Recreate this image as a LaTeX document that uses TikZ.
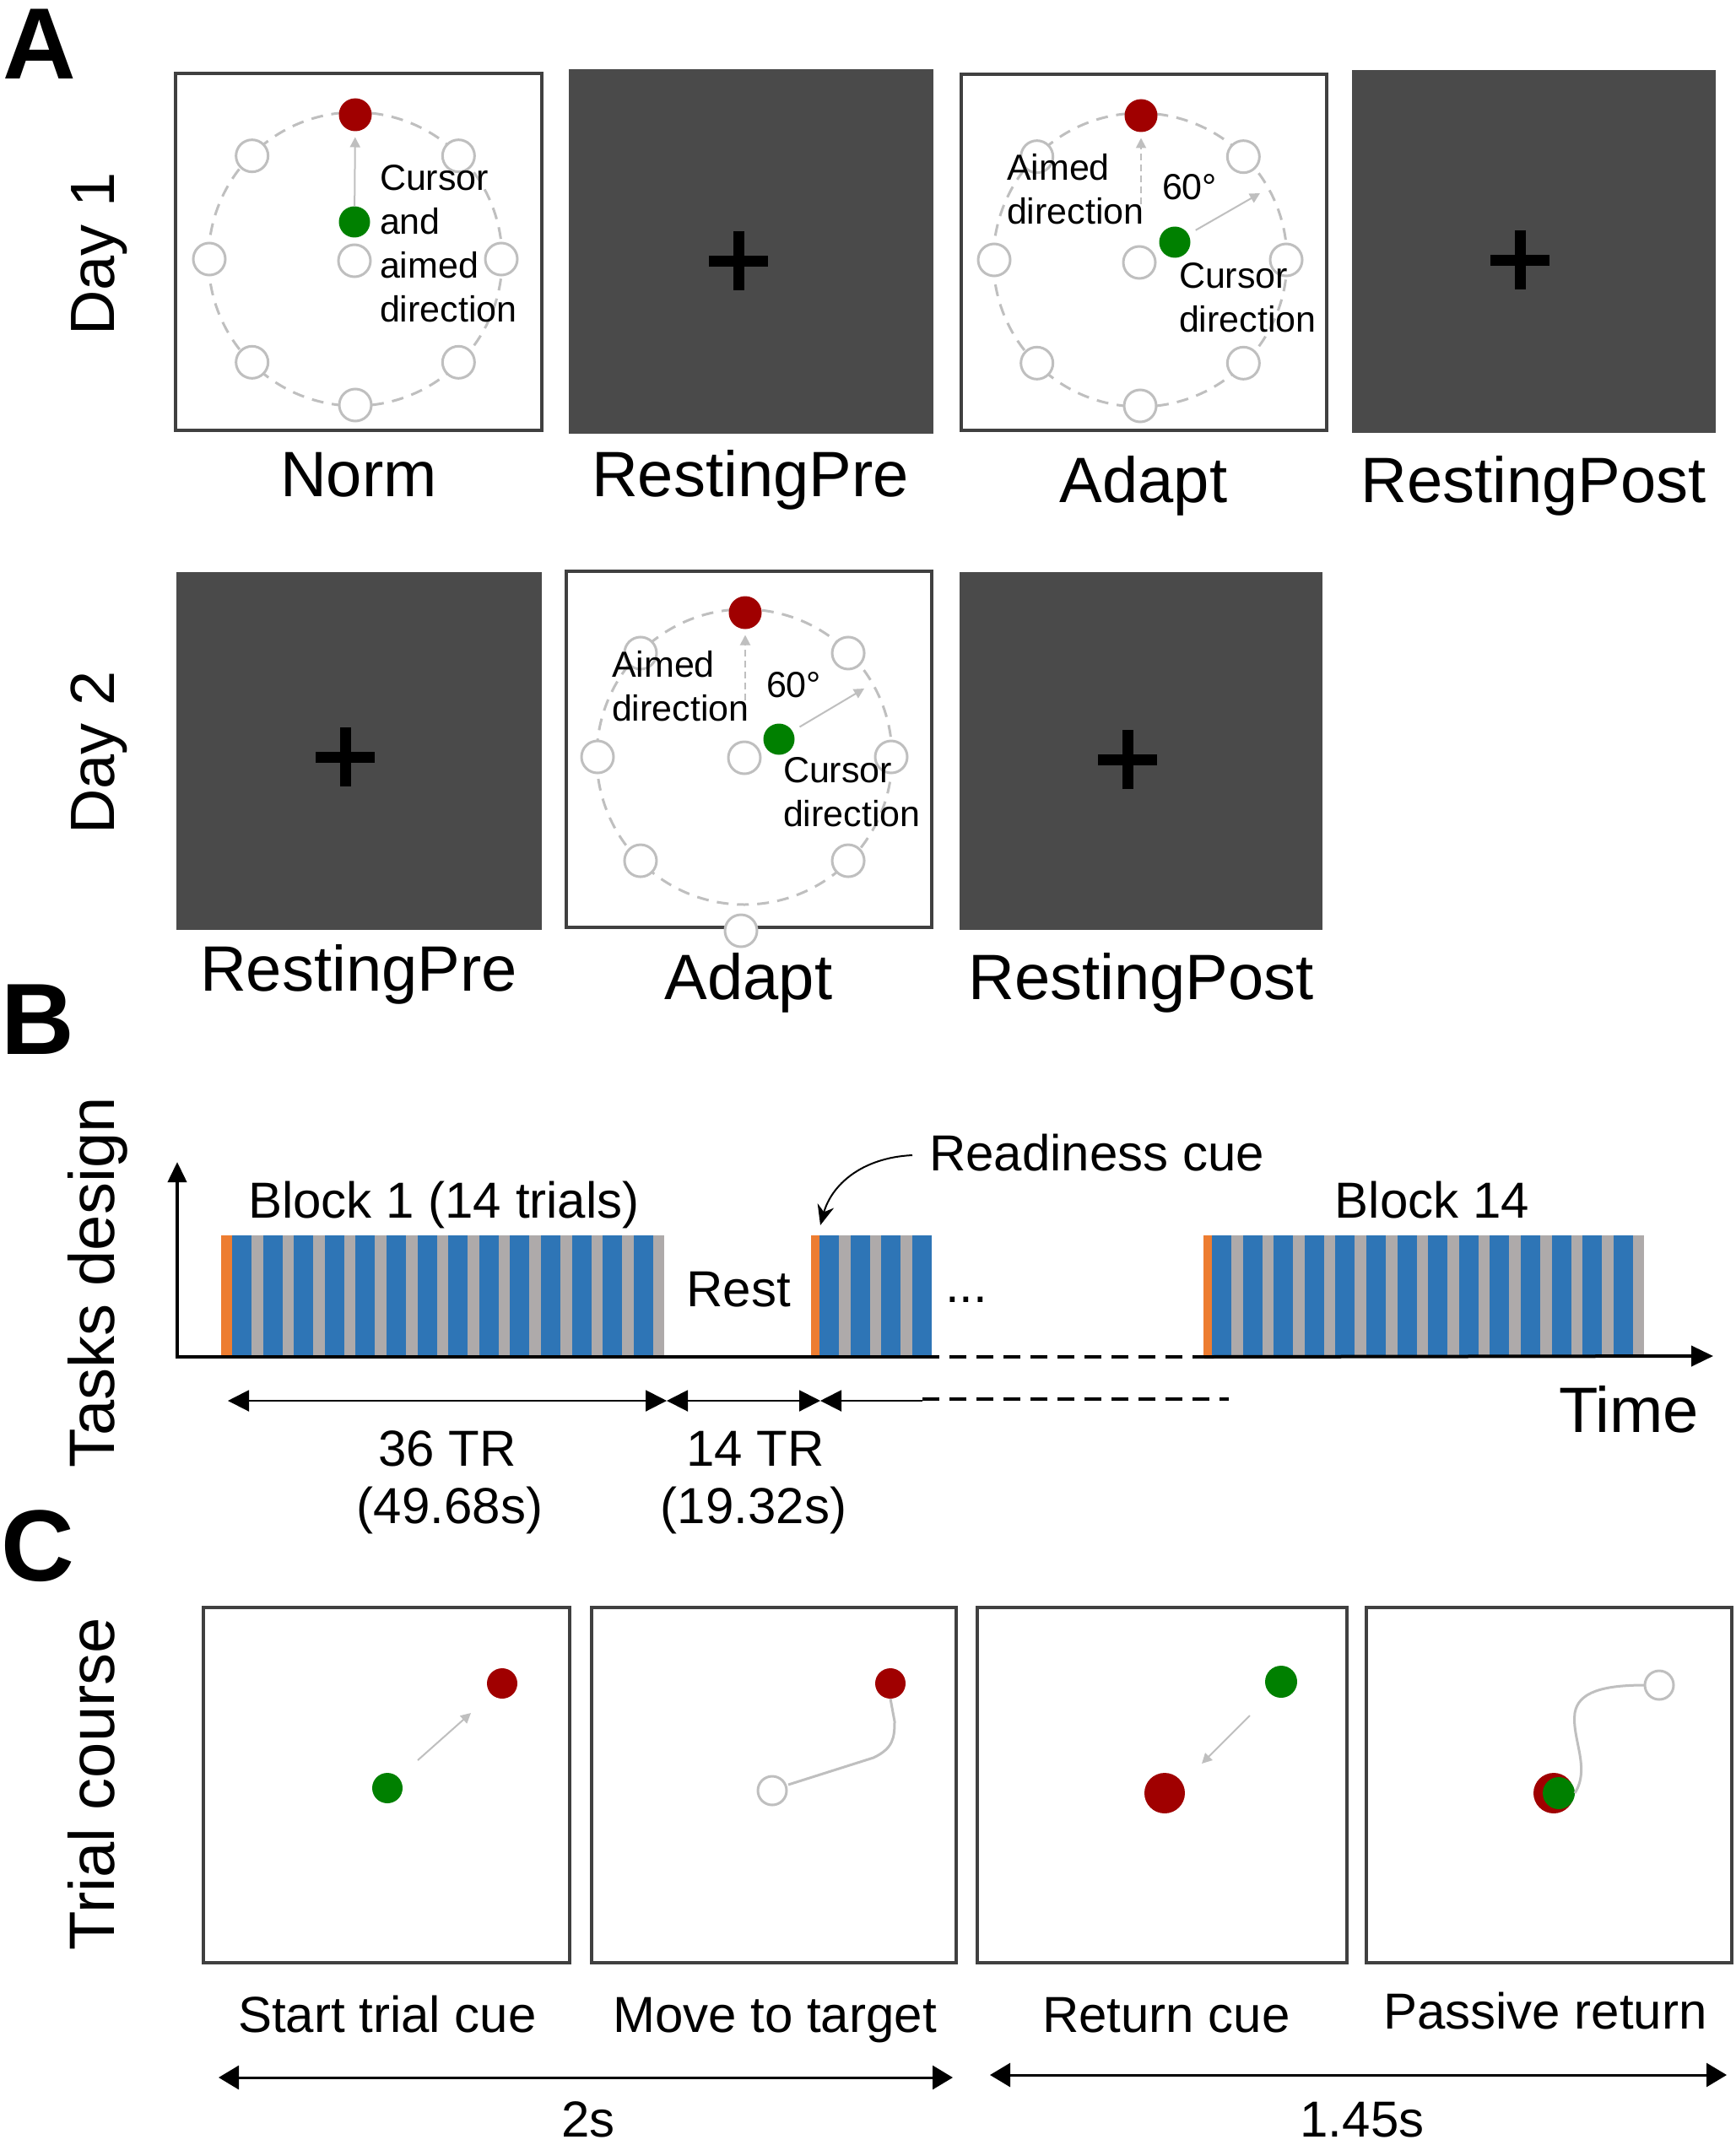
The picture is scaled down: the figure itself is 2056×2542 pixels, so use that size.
\documentclass[tikz,border=0pt]{standalone}
\usepackage{fontspec}
\setmainfont{Liberation Sans}
\usetikzlibrary{arrows.meta,fit,calc}

\definecolor{dkbox}{HTML}{404040}
\definecolor{restgray}{HTML}{4A4A4A}
\definecolor{ltgray}{HTML}{BFBFBF}
\definecolor{tred}{HTML}{A00000}
\definecolor{tgreen}{HTML}{008000}
\definecolor{sblue}{HTML}{2E75B6}
\definecolor{sgray}{HTML}{AEAAAA}
\definecolor{sorange}{HTML}{ED7D31}

\begin{document}
\begin{tikzpicture}[x=0.5pt,y=-0.5pt,
  every node/.style={inner sep=0pt, outer sep=0pt},
  wbox/.style={draw=dkbox, line width=2pt, fill=white},
  rbox/.style={fill=restgray, draw=restgray, line width=0.5pt},
  target/.style={circle, draw=ltgray, line width=1.5pt, fill=white, minimum size=19pt},
  reddot/.style={circle, fill=tred, minimum size=19.5pt},
  greendot/.style={circle, fill=tgreen, minimum size=18.5pt},
  bigred/.style={circle, fill=tred, minimum size=24pt},
  ring/.style={draw=ltgray, line width=1.5pt, dash pattern=on 7pt off 5pt},
  garrow/.style={draw=ltgray, line width=1pt, -{Triangle[length=6pt,width=6pt]}},
  gdash/.style={draw=ltgray, line width=1pt, dash pattern=on 4pt off 2.5pt, -{Triangle[length=6pt,width=6pt]}},
  gpath/.style={draw=ltgray, line width=1.5pt},
  plusline/.style={line width=6.5pt, black},
  bigtxt/.style={font=\fontsize{38}{44}\selectfont},
  sidetxt/.style={font=\fontsize{37}{44}\selectfont, rotate=90, anchor=base},
  midtxt/.style={font=\fontsize{30}{36}\selectfont},
  smtxt/.style={font=\fontsize{21.5}{26}\selectfont, align=left},
  paneltag/.style={font=\fontsize{60}{70}\selectfont\bfseries},
  dimarrow/.style={line width=1pt, {Triangle[length=12.5pt,width=12.5pt]}-{Triangle[length=12.5pt,width=12.5pt]}},
  dimarrowc/.style={line width=1.5pt, {Triangle[length=12pt,width=14pt]}-{Triangle[length=12pt,width=14pt]}},
  axisline/.style={line width=2pt, black},
  dashaxis/.style={line width=2pt, black, dash pattern=on 10pt off 6pt}
]
\useasboundingbox (0,0) rectangle (2056,2542);

% ---------------- Panel tags and side labels
\node[paneltag] (tagA) at (47,52) {A};
\node[paneltag] (tagB) at (45,1208) {B};
\node[paneltag] (tagC) at (45,1832) {C};
\node[sidetxt] (day1) at (135,301) {Day 1};
\node[sidetxt] (day2) at (135,892) {Day 2};
\node[sidetxt, font=\fontsize{38}{44}\selectfont] (tasks) at (135,1520) {Tasks design};
\node[sidetxt, font=\fontsize{38}{44}\selectfont] (trial) at (135,2114) {Trial course};

% ---------------- Panel A boxes
\node[wbox, fit={(208,87) (642,510)}] (norm) {};
\node[rbox, fit={(674,83) (1105,513)}] (rpre1) {};
\node[wbox, fit={(1139,88) (1572,510)}] (adapt1) {};
\node[rbox, fit={(1602,84) (2032,512)}] (rpost1) {};
\node[rbox, fit={(209,678) (641,1101)}] (rpre2) {};
\node[wbox, fit={(671,677) (1104,1099)}] (adapt2) {};
\node[rbox, fit={(1137,678) (1566,1101)}] (rpost2) {};

% fixation crosses
\foreach \px/\py in {875/309, 1801/308, 409/897, 1336/900} {
  \draw[plusline] (\px-35,\py) -- (\px+35,\py);
  \draw[plusline] (\px,\py-35) -- (\px,\py+35);
}

% ---------------- Norm
\coordinate (c1) at (421,307);
\draw[ring] (c1) circle[radius=87pt];
\foreach \a/\n in {135/ul,45/ur,180/l,0/r,-135/ll,-45/lr,-90/b}
  \node[target] (n\n) at ($(c1)+(\a:86.5pt)$) {};
\node[target] (nc) at (420,309) {};
\node[reddot] (nred) at (421,136) {};
\node[greendot] (ngreen) at (420,263) {};
\draw[garrow, shorten >=3.5pt] (ngreen) -- (nred);
\node[smtxt, anchor=north west] (ntxt) at (450,195) {Cursor\\and\\aimed\\direction};

% ---------------- Adapt day 1
\coordinate (c2) at (1351,308);
\draw[ring] (c2) circle[radius=87pt];
\foreach \a/\n in {135/ul,45/ur,180/l,0/r,-135/ll,-45/lr,-90/b}
  \node[target] (a\n) at ($(c2)+(\a:86.5pt)$) {};
\node[target] (ac) at (1350,311) {};
\node[reddot] (ared) at (1352,137) {};
\node[greendot] (agreen) at (1392,287) {};
\coordinate (a1s) at (1352,242);
\coordinate (a1e) at (1493,229);
\draw[gdash, shorten >=3.5pt] (a1s) -- (ared);
\draw[garrow, shorten <=5pt] (agreen) -- (a1e);
\node[smtxt, anchor=north west] (atxt1) at (1193,182) {Aimed\\direction};
\node[smtxt, anchor=base west] (adeg1) at (1377,237) {60°};
\node[smtxt, anchor=north west] (ctxt1) at (1397,311) {Cursor\\direction};

% ---------------- Adapt day 2
\coordinate (c3) at (882,897);
\draw[ring] (c3) circle[radius=87.5pt];
\foreach \a/\n in {135/ul,45/ur,180/l,0/r,-135/ll,-45/lr}
  \node[target] (d\n) at ($(c3)+(\a:87pt)$) {};
\node[target] (db) at (878,1103) {};
\node[target] (dc) at (882,898) {};
\node[reddot] (dred) at (883,726) {};
\node[greendot] (dgreen) at (923,876) {};
\coordinate (a2s) at (883,830);
\coordinate (a2e) at (1024,816);
\draw[gdash, shorten >=3.5pt] (a2s) -- (dred);
\draw[garrow, shorten <=5pt] (dgreen) -- (a2e);
\node[smtxt, anchor=north west] (atxt2) at (725,771) {Aimed\\direction};
\node[smtxt, anchor=base west] (adeg2) at (908,826) {60°};
\node[smtxt, anchor=north west] (ctxt2) at (928,897) {Cursor\\direction};

% ---------------- Panel A labels
\node[bigtxt, anchor=base] (lnorm) at (425,588) {Norm};
\node[bigtxt, anchor=base] (lrpre1) at (889,588) {RestingPre};
\node[bigtxt, anchor=base] (ladapt1) at (1355,595) {Adapt};
\node[bigtxt, anchor=base] (lrpost1) at (1817,595) {RestingPost};
\node[bigtxt, anchor=base] (lrpre2) at (425,1174) {RestingPre};
\node[bigtxt, anchor=base] (ladapt2) at (887,1184) {Adapt};
\node[bigtxt, anchor=base] (lrpost2) at (1352,1184) {RestingPost};

% ---------------- Panel B
% block 1
\fill[sorange] (262,1464) rectangle (275,1608);
\foreach \i in {0,...,13} {
  \fill[sblue] ({275+36.6*\i},1464) rectangle ({298+36.6*\i},1608);
  \fill[sgray] ({298+36.6*\i},1464) rectangle ({311.6+36.6*\i},1608);
}
% block 2
\fill[sorange] (961,1464) rectangle (971,1608);
\foreach \i in {0,1,2} {
  \fill[sblue] ({971+36.6*\i},1464) rectangle ({994+36.6*\i},1608);
  \fill[sgray] ({994+36.6*\i},1464) rectangle ({1007.6+36.6*\i},1608);
}
\fill[sblue] (1080.8,1464) rectangle (1103.8,1608);
% block 14
\fill[sorange] (1426,1464) rectangle (1436,1608);
\foreach \i in {0,...,13} {
  \fill[sblue] ({1436+36.6*\i},1464) rectangle ({1459+36.6*\i},1608);
  \fill[sgray] ({1459+36.6*\i},1464) rectangle ({1472.6+36.6*\i},1608);
}

% axes
\coordinate (orig) at (210,1608);
\coordinate (ytop) at (210,1377);
\coordinate (bsolid) at (1093,1608);
\coordinate (bdash) at (1427,1608);
\coordinate (xend) at (2030,1607);
\draw[axisline, -{Triangle[length=12pt,width=11pt]}] ([yshift=-1pt]orig) -- (ytop);
\draw[axisline] (orig) -- (bsolid);
\draw[dashaxis] (bsolid) -- (bdash);
\draw[axisline, -{Triangle[length=13pt,width=12pt]}] (bdash) -- (xend);

% texts
\node[midtxt, anchor=base] (b1lab) at (526,1443) {Block 1 (14 trials)};
\node[midtxt, anchor=base] (b14lab) at (1697,1443) {Block 14};
\node[midtxt, anchor=base west] (ready) at (1101,1387) {Readiness cue};
\node[midtxt, anchor=base] (rest) at (875,1548) {Rest};
\node[midtxt, anchor=base] (dots) at (1145,1543) {...};
\node[bigtxt, anchor=base west] (time) at (1847,1697) {Time};

% readiness arrow
\coordinate (rstart) at (1081,1369);
\coordinate (rtip) at (972,1452);
\draw[line width=1pt, -{Stealth[length=12pt,width=10pt]}] (rstart) .. controls (1020,1372) and (985,1405) .. (rtip);

% dimension arrows
\coordinate (d0) at (270,1660);
\coordinate (d1) at (790,1660);
\coordinate (d2) at (972,1660);
\coordinate (d3) at (1093,1660);
\coordinate (d4) at (1456,1658);
\draw[dimarrow] (d0) -- (d1);
\draw[dimarrow] (d1) -- (d2);
\draw[line width=1pt, {Triangle[length=12.5pt,width=12.5pt]}-] (d2) -- (d3);
\draw[dashaxis] ([yshift=1pt]d3) -- (d4);

\node[midtxt, anchor=base] (t36) at (530,1737) {36 TR};
\node[midtxt, anchor=base] (t36s) at (533,1805) {(49.68s)};
\node[midtxt, anchor=base] (t14) at (895,1737) {14 TR};
\node[midtxt, anchor=base] (t14s) at (893,1805) {(19.32s)};

% ---------------- Panel C
\node[wbox, fit={(241,1905) (675,2326)}] (cbox1) {};
\node[wbox, fit={(701,1905) (1133,2326)}] (cbox2) {};
\node[wbox, fit={(1158,1905) (1596,2326)}] (cbox3) {};
\node[wbox, fit={(1619,1905) (2052,2326)}] (cbox4) {};

% box 1
\node[reddot, minimum size=18pt] (c1red) at (595,1995) {};
\node[greendot, minimum size=18pt] (c1green) at (459,2119) {};
\coordinate (c1as) at (495,2086);
\coordinate (c1ae) at (558,2030);
\draw[garrow] (c1as) -- (c1ae);

% box 2
\node[reddot, minimum size=18pt] (c2red) at (1055,1995) {};
\node[target, minimum size=17pt] (c2hol) at (915,2122) {};
\draw[gpath] (c2hol) ++(19,-7) -- (1035,2083) .. controls (1058,2072) and (1060,2060) .. (1060,2040) -- (c2red.south);

% box 3
\node[greendot, minimum size=19pt] (c3green) at (1518,1993) {};
\node[bigred] (c3red) at (1380,2125) {};
\coordinate (c3as) at (1481,2033);
\coordinate (c3ae) at (1424,2090);
\draw[garrow] (c3as) -- (c3ae);

% box 4
\node[target, minimum size=17pt] (c4hol) at (1966,1997) {};
\node[bigred] (c4red) at (1841,2125) {};
\node[greendot, minimum size=19pt] (c4green) at (1847,2125) {};
\draw[gpath] (c4green.east) .. controls (1885,2095) and (1862,2060) .. (1866,2030) .. controls (1870,2005) and (1900,1997) .. (c4hol.west);

% labels
\node[midtxt, anchor=base] (lc1) at (459,2408) {Start trial cue};
\node[midtxt, anchor=base] (lc2) at (918,2408) {Move to target};
\node[midtxt, anchor=base] (lc3) at (1382,2408) {Return cue};
\node[midtxt, anchor=base] (lc4) at (1831,2404) {Passive return};

\coordinate (e0) at (259,2462);
\coordinate (e1) at (1129,2462);
\coordinate (e2) at (1173,2459);
\coordinate (e3) at (2046,2459);
\draw[dimarrowc] (e0) -- (e1);
\draw[dimarrowc] (e2) -- (e3);
\node[midtxt, anchor=base] (l2s) at (697,2532) {2s};
\node[midtxt, anchor=base] (l145) at (1614,2532) {1.45s};
\end{tikzpicture}
\end{document}
